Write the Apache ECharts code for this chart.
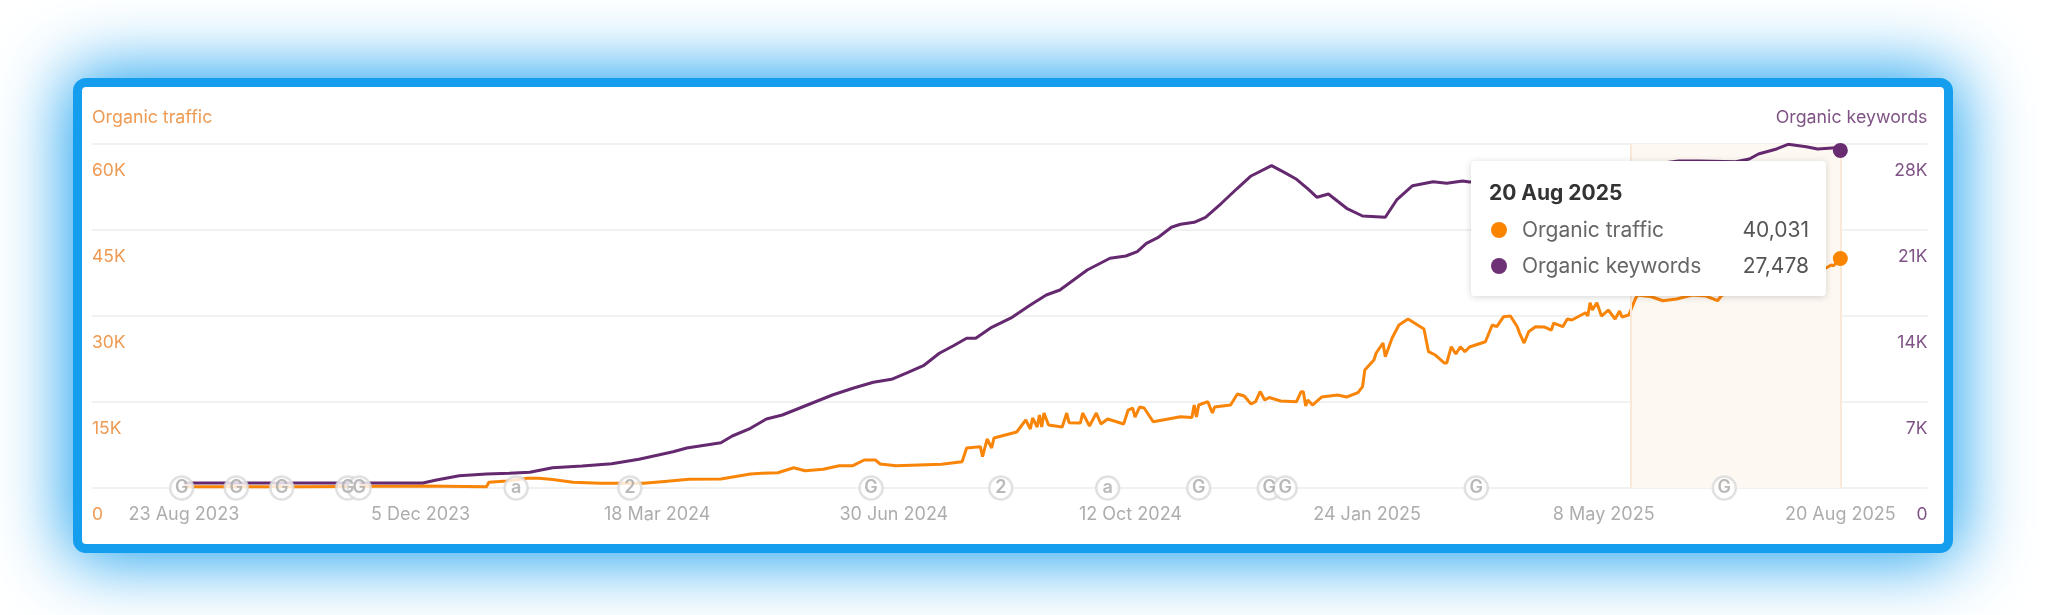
<!DOCTYPE html>
<html>
<head>
<meta charset="utf-8">
<style>
html,body{margin:0;padding:0;background:#fff;width:2048px;height:615px;overflow:hidden}
#frame{position:absolute;left:73px;top:78px;width:1880px;height:475px;box-sizing:border-box;border:9.5px solid #159eee;border-radius:13px;background:#fff;box-shadow:0 0 70px 6px #159eee}
#chart{position:absolute;left:0;top:0;width:2048px;height:615px;filter:blur(0.4px)}
</style>
<script src="https://cdn.jsdelivr.net/npm/echarts@6/dist/echarts.min.js"></script>
</head>
<body>
<div id="frame"></div>
<div id="chart"></div>
<script>
const tickDays = [0,104,208,312,416,520,624,728];
const tickLabels = ['23 Aug 2023','5 Dec 2023','18 Mar 2024','30 Jun 2024','12 Oct 2024','24 Jan 2025','8 May 2025','20 Aug 2025'];

const keywordDays = [0,51,105,111,121,133,143,152,162,175,188,200,215,221,236,241,249,256,263,274,285,294,303,311,318,325,332,338,344,348,355,364,372,379,385,391,397,407,414,419,423,428,434,438,444,449,456,463,469,478,483,489,494,498,503,511,518,528,533,540,549,555,562,565,578,600,622,640,657,666,682,688,692,700,705,713,718,726,728];
const keywordValues = [407,410,407,651,1001,1140,1197,1278,1652,1791,1978,2336,2955,3256,3687,4233,4860,5617,5942,6756,7570,8116,8604,8848,9385,9955,10965,11559,12186,12186,13081,13895,14896,15710,16117,16931,17745,18698,18885,19235,19919,20374,21221,21465,21628,22035,23175,24396,25397,26235,25747,25128,24339,23663,23932,22768,22141,22035,23443,24607,24933,24803,24990,24908,25071,25234,25722,26211,26618,26618,26561,26781,27188,27595,27977,27781,27595,27700,27478];

const trafficDays = [0,51,105,133,134,142,151,156,162,171,183,202,210,222,236,249,254,261,268,273,281,288,294,299,304,306,313,333,342,344,350,351,353,355,356,366,370,372,373,375,376,377,378,380,386,388,389,394,395,398,401,403,406,413,415,417,418,420,422,426,438,443,444,445,446,450,452,453,460,463,466,469,471,473,475,477,482,489,491,492,493,494,496,500,507,511,516,518,519,523,524,527,528,531,534,538,545,547,550,554,555,557,559,561,563,565,572,575,577,580,583,586,587,589,591,594,598,601,602,606,608,610,616,617,618,619,621,623,626,629,631,632,635,638,639,645,650,656,663,669,674,676,684,697,710,721,724,725,728];
const trafficValues = [227,227,349,227,994,1221,1692,1692,1482,994,820,820,1099,1517,1570,2442,2564,2668,3540,3017,3261,3889,3889,4883,4883,4186,3889,4133,4587,6976,7203,5459,8546,6976,8720,9766,11859,10290,12208,10638,12731,10638,13080,10987,10638,13080,11388,11336,13080,10813,13080,11162,12034,11162,13603,13952,12382,14126,13952,11563,12435,12295,14475,12382,14475,15051,13080,14126,14475,16394,16045,14650,15051,16830,15347,15783,15173,15051,16795,16795,14301,15347,14475,15870,16219,15870,16620,17666,20579,22323,23544,25288,22899,26160,28427,29474,27730,23771,23195,21800,21800,24643,23370,24643,23771,24590,25515,28427,28131,29875,29997,28131,27032,25288,27259,28131,28078,27555,28776,28131,29474,29299,30572,29997,32316,31043,32316,29997,31043,29474,30869,29822,30171,33084,33659,33363,32665,32962,33659,33485,32665,33659,34182,35403,36624,38194,38891,38769,40031];

const eventDays = [-1,23,43,72,77,146,196,302,359,406,446,477,484,568,677];
const eventLabels = ['G','G','G','G','G','a','2','G','2','a','G','G','G','G','G'];
const selectionDays = [636,728];
const tooltipDate = '20 Aug 2025';

const DAY = 86400000;
const t0 = Date.UTC(2023,7,23);
const toTime = d => t0 + d*DAY;
const pair = (days,vals) => days.map((d,i)=>[toTime(d),vals[i]]);
const labelByTime = {};
tickDays.forEach((d,i)=>{labelByTime[toTime(d)] = tickLabels[i];});
const FONT = 'Inter, "Noto Sans", sans-serif';
const ORANGE = '#f98508', PURPLE = '#64296f';
const lastTraffic = trafficValues[trafficValues.length-1];
const lastKeyword = keywordValues[keywordValues.length-1];

const chart = echarts.init(document.getElementById('chart'),null,{renderer:'canvas',width:2048,height:615});
chart.setOption({
  animation:false,
  backgroundColor:'transparent',
  grid:{left:92,right:120.5,top:144,bottom:127,containLabel:false},
  tooltip:{
    show:true,trigger:'axis',triggerOn:'none',alwaysShowContent:true,
    transitionDuration:0,position:[1471,161],padding:0,borderWidth:0,backgroundColor:'#fff',
    axisPointer:{type:'line',lineStyle:{opacity:0},label:{show:false}},
    extraCssText:'box-shadow:0 1px 7px rgba(0,0,0,.17);border-radius:4px;',
    formatter(){
      const row=(c,n,v)=>`<div style="display:flex;align-items:center;height:36px"><span style="width:16px;height:16px;border-radius:50%;background:${c};margin-left:20px;margin-right:15px"></span><span style="color:#666;flex:1">${n}</span><span style="color:#555;margin-right:17px">${v.toLocaleString('en-US')}</span></div>`;
      return `<div style="width:355px;height:135px;box-sizing:border-box;padding-top:18px;font:21px ${FONT.replace(/"/g,"'")};line-height:28px"><div style="font-weight:700;color:#333;margin-left:18px;height:33px">${tooltipDate}</div>${row('#fb8500','Organic traffic',lastTraffic)}${row('#6e3175','Organic keywords',lastKeyword)}</div>`;
    }
  },
  xAxis:{
    type:'value',min:toTime(-40.4),max:toTime(766.3),scale:true,
    axisLine:{show:false},axisTick:{show:false},splitLine:{show:false},
    axisLabel:{customValues:tickDays.map(toTime),formatter:v=>labelByTime[v]||'',color:'#adadad',fontFamily:FONT,fontSize:18,margin:18,hideOverlap:false}
  },
  yAxis:[
    {type:'value',min:0,max:60000,interval:15000,position:'left',name:'Organic traffic',nameLocation:'end',nameGap:26,
     nameTextStyle:{color:'#ee9a52',fontFamily:FONT,fontSize:17.8,align:'left',verticalAlign:'middle'},
     axisLine:{show:false},axisTick:{show:false},splitLine:{show:true,lineStyle:{color:'#f1f1f1',width:2}},
     axisLabel:{inside:true,margin:0,color:'#ee9a52',fontFamily:FONT,fontSize:17.5,verticalAlign:'top',padding:[18,0,0,0],formatter:v=>v===0?'0':(v/1000)+'K'}},
    {type:'value',min:0,max:28000,interval:7000,position:'right',name:'Organic keywords',nameLocation:'end',nameGap:26,
     nameTextStyle:{color:'#7f5385',fontFamily:FONT,fontSize:17.8,align:'right',verticalAlign:'middle'},
     axisLine:{show:false},axisTick:{show:false},splitLine:{show:false},
     axisLabel:{inside:true,margin:0,color:'#7f5385',fontFamily:FONT,fontSize:17.5,verticalAlign:'top',padding:[18,0,0,0],formatter:v=>v===0?'0':(v/1000)+'K'}}
  ],
  series:[
    {name:'Organic traffic',type:'line',yAxisIndex:0,data:pair(trafficDays,trafficValues),showSymbol:false,z:3,
     lineStyle:{color:ORANGE,width:3},itemStyle:{color:ORANGE},emphasis:{disabled:true},
     markArea:{silent:true,itemStyle:{color:'#fef8f3'},data:[[{xAxis:toTime(selectionDays[0])},{xAxis:toTime(selectionDays[1])}]]},
     markLine:{silent:true,symbol:'none',label:{show:false},lineStyle:{color:'#fbe9d8',width:2,type:'solid'},data:selectionDays.map(d=>({xAxis:toTime(d)}))},
     markPoint:{silent:true,symbol:'circle',symbolSize:15,itemStyle:{color:'#fb8500'},label:{show:false},data:[{coord:[toTime(728),lastTraffic]}]}},
    {name:'Organic keywords',type:'line',yAxisIndex:1,data:pair(keywordDays,keywordValues),showSymbol:false,z:4,
     lineStyle:{color:PURPLE,width:3},itemStyle:{color:PURPLE},emphasis:{disabled:true},
     markPoint:{silent:true,symbol:'circle',symbolSize:15,itemStyle:{color:'#6a2c70'},label:{show:false},data:[{coord:[toTime(728),lastKeyword]}]}},
    {name:'events',type:'scatter',yAxisIndex:0,clip:false,z:6,symbol:'circle',symbolSize:23,silent:true,
     data:eventDays.map((d,i)=>({value:[toTime(d),0],label:{formatter:eventLabels[i]}})),
     itemStyle:{color:'#fff',borderColor:'#dadada',borderWidth:2.5},
     label:{show:true,position:'inside',color:'#a8a8a8',fontFamily:FONT,fontSize:18,fontWeight:600}}
  ]
});
chart.dispatchAction({type:'showTip',x:1841,y:300});
</script>
</body>
</html>
